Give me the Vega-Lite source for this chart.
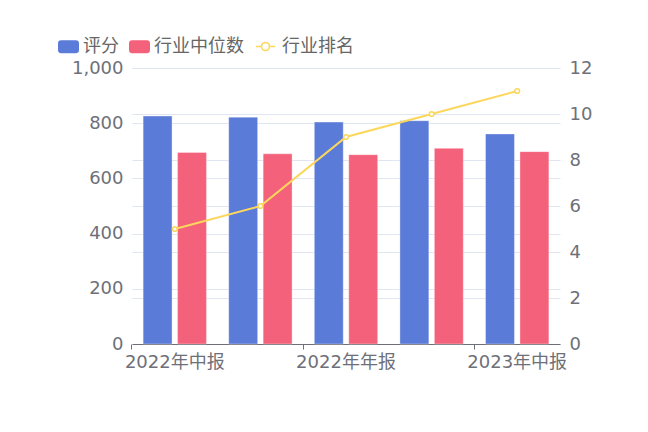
{
  "$schema": "https://vega.github.io/schema/vega-lite/v6.json",
  "width": 428,
  "height": 276,
  "autosize": {"type": "none"},
  "padding": {"left": 132, "top": 68, "right": 88, "bottom": 88},
  "background": "white",
  "config": {
    "view": {"stroke": null},
    "font": "DejaVu Sans, Noto Sans CJK SC",
    "axis": {"labelFont": "DejaVu Sans, Noto Sans CJK SC", "labelFontSize": 18, "labelColor": "#6e7079", "gridColor": "#e0e6f1", "gridWidth": 1, "title": null},
    "legend": {"labelFont": "DejaVu Sans, Noto Sans CJK SC", "labelFontSize": 18, "labelColor": "#666666"}
  },
  "datasets": {
    "bars": [
      {"period": "2022年中报", "series": "评分", "value": 826},
      {"period": "2022年三季报", "series": "评分", "value": 822},
      {"period": "2022年年报", "series": "评分", "value": 804},
      {"period": "2023年一季报", "series": "评分", "value": 809},
      {"period": "2023年中报", "series": "评分", "value": 761},
      {"period": "2022年中报", "series": "行业中位数", "value": 694},
      {"period": "2022年三季报", "series": "行业中位数", "value": 689},
      {"period": "2022年年报", "series": "行业中位数", "value": 686},
      {"period": "2023年一季报", "series": "行业中位数", "value": 709},
      {"period": "2023年中报", "series": "行业中位数", "value": 697}
    ],
    "rank": [
      {"period": "2022年中报", "rank": 5},
      {"period": "2022年三季报", "rank": 6},
      {"period": "2022年年报", "rank": 9},
      {"period": "2023年一季报", "rank": 10},
      {"period": "2023年中报", "rank": 11}
    ]
  },
  "layer": [
    {
      "data": {"name": "bars"},
      "mark": {"type": "bar", "stroke": "white", "strokeOpacity": 0.35, "strokeWidth": 1},
      "encoding": {
        "x": {
          "field": "period", "type": "nominal",
          "scale": {"domain": ["2022年中报", "2022年三季报", "2022年年报", "2023年一季报", "2023年中报"], "paddingInner": 0.26, "paddingOuter": 0.13},
          "axis": {
            "values": ["2022年中报", "2022年年报", "2023年中报"],
            "bandPosition": -0.1757,
            "labelAngle": 0,
            "labelPadding": 4,
            "tickSize": 5,
            "tickColor": "#6e7079",
            "domainColor": "#6e7079",
            "grid": false
          }
        },
        "xOffset": {"field": "series", "type": "nominal", "scale": {"domain": ["评分", "行业中位数"], "paddingInner": 0.16}},
        "y": {
          "field": "value", "type": "quantitative",
          "scale": {"domain": [0, 1000], "nice": false},
          "axis": {"values": [0, 200, 400, 600, 800, 1000], "format": ",.0f", "domain": false, "ticks": false, "labelPadding": 9, "grid": true}
        },
        "color": {
          "field": "series", "type": "nominal",
          "scale": {"domain": ["评分", "行业中位数"], "range": ["#5b7bd9", "#f4617b"]},
          "legend": {
            "orient": "none", "legendX": -74, "legendY": -32, "direction": "horizontal",
            "title": null, "padding": 0,
            "symbolType": "M-0.7,-0.62 L0.7,-0.62 Q1,-0.62 1,-0.32 L1,0.32 Q1,0.62 0.7,0.62 L-0.7,0.62 Q-1,0.62 -1,0.32 L-1,-0.32 Q-1,-0.62 -0.7,-0.62 Z",
            "symbolSize": 441, "symbolStrokeWidth": 0, "symbolOpacity": 1,
            "labelOffset": 4, "columnPadding": 10
          }
        }
      }
    },
    {
      "data": {"name": "rank"},
      "mark": {"type": "line", "strokeWidth": 2},
      "encoding": {
        "x": {"field": "period", "type": "nominal"},
        "y": {"field": "rank", "type": "quantitative", "scale": {"domain": [0, 12], "nice": false}, "axis": null},
        "stroke": {
          "datum": "行业排名",
          "scale": {"domain": ["行业排名"], "range": ["#fcd75c"]},
          "legend": {
            "orient": "none", "legendX": 123, "legendY": -32, "direction": "horizontal",
            "title": null, "padding": 0,
            "symbolType": "M-1,0 L-0.42,0 M0.42,0 L1,0 M-0.42,0 A0.42,0.42 0 1,0 0.42,0 A0.42,0.42 0 1,0 -0.42,0 Z",
            "symbolSize": 361, "symbolStrokeWidth": 1.6, "symbolFillColor": "white",
            "labelOffset": 6
          }
        }
      }
    },
    {
      "data": {"name": "rank"},
      "mark": {"type": "point", "filled": true, "fill": "white", "stroke": "#fcd75c", "strokeWidth": 1.5, "size": 22, "opacity": 1},
      "encoding": {
        "x": {"field": "period", "type": "nominal"},
        "y": {
          "field": "rank", "type": "quantitative", "scale": {"domain": [0, 12], "nice": false},
          "axis": {"orient": "right", "values": [0, 2, 4, 6, 8, 10, 12], "domain": false, "ticks": false, "labelPadding": 9, "grid": true}
        }
      }
    }
  ],
  "resolve": {"scale": {"y": "independent"}}
}
